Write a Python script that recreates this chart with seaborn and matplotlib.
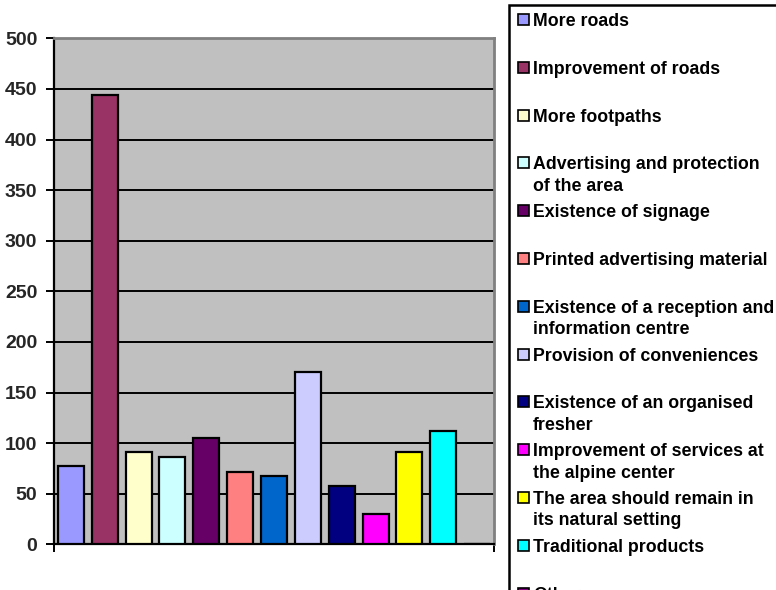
import matplotlib
matplotlib.use("Agg")
import matplotlib.pyplot as plt
from matplotlib.patches import Rectangle
import seaborn as sns
import pandas as pd

# Survey answers: suggested improvements for the area
categories = [
    "More roads",
    "Improvement of roads",
    "More footpaths",
    "Advertising and protection\nof the area",
    "Existence of signage",
    "Printed advertising material",
    "Existence of a reception and\ninformation centre",
    "Provision of conveniences",
    "Existence of an organised\nfresher",
    "Improvement of services at\nthe alpine center",
    "The area should remain in\nits natural setting",
    "Traditional products",
    "Other",
]
values = [77, 444, 91, 86, 105, 71, 67, 170, 58, 30, 91, 112, 0]
colors = [
    "#9999FF", "#993366", "#FFFFCC", "#CCFFFF", "#660066", "#FF8080",
    "#0066CC", "#CCCCFF", "#000080", "#FF00FF", "#FFFF00", "#00FFFF",
    "#800080",
]
y_ticks = [0, 50, 100, 150, 200, 250, 300, 350, 400, 450, 500]

W, H = 776, 590
DPI = 100

sns.set_theme(style="white")
plt.rcParams["font.family"] = ["Liberation Sans", "DejaVu Sans"]
plt.rcParams["font.weight"] = "bold"

df = pd.DataFrame({"answer": categories, "count": values})

fig = plt.figure(figsize=(W / DPI, H / DPI), dpi=DPI)
fig.patch.set_facecolor("white")

# plot area in pixel coordinates
left, right, top, bottom = 54, 494, 38.3, 544.3
ax = fig.add_axes([left / W, 1 - bottom / H, (right - left) / W, (bottom - top) / H])
ax.set_facecolor("#C0C0C0")

sns.barplot(
    data=df, x="answer", y="count", hue="answer", order=categories,
    hue_order=categories, palette=colors, legend=False, width=0.77,
    edgecolor="black", linewidth=1.6, saturation=1, ax=ax, zorder=3,
)

ax.set_xlim(-0.5, len(categories) - 0.5)
ax.set_ylim(0, 500)
ax.set_yticks(y_ticks)
ax.set_yticklabels([str(v) for v in y_ticks], fontsize=14, fontweight="bold")
ax.set_xticks([-0.5, len(categories) - 0.5])
ax.set_xticklabels(["", ""])
ax.set_xlabel("")
ax.set_ylabel("")

ax.yaxis.grid(True, color="black", linewidth=1.4, zorder=0)
ax.set_axisbelow(True)
ax.tick_params(axis="y", direction="out", length=6, width=1.4, color="black",
               pad=6, left=True)
ax.tick_params(axis="x", direction="out", length=6, width=1.4, color="black",
               bottom=True)

for side in ("left", "bottom"):
    ax.spines[side].set_color("black")
    ax.spines[side].set_linewidth(1.6)
for side in ("top", "right"):
    ax.spines[side].set_color("#808080")
    ax.spines[side].set_linewidth(2)


def fx(x):
    return x / W


def fy(y):
    return 1 - y / H


# legend panel, running past the lower and right edges of the figure
fig.add_artist(Rectangle((fx(509), fy(H + 20)), fx(500), (H + 15) / H,
                         transform=fig.transFigure, facecolor="white",
                         edgecolor="black", linewidth=1.8, clip_on=False))

step = 47.8
for i, (label, color) in enumerate(zip(categories, colors)):
    y0 = 14 + i * step
    fig.add_artist(Rectangle((fx(518), fy(y0 + 11)), 11 / W, 11 / H,
                             transform=fig.transFigure, facecolor=color,
                             edgecolor="black", linewidth=1.2))
    fig.text(fx(533), fy(y0 - 1.0), label, fontsize=12.75, fontweight="bold",
             va="top", ha="left", linespacing=1.34, color="black")

fig.savefig("out.png", dpi=DPI, facecolor="white")
